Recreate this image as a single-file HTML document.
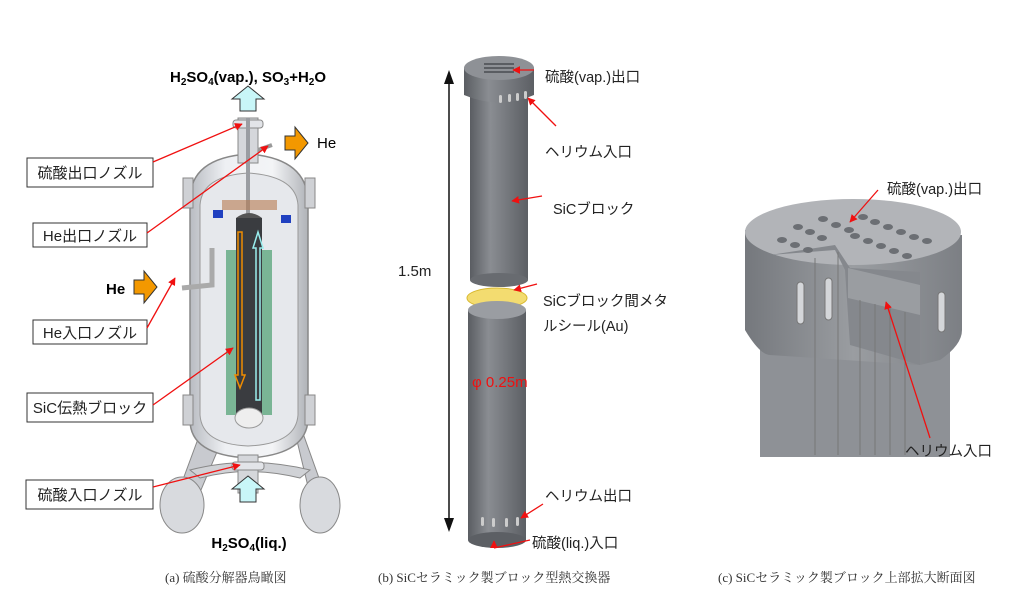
<!DOCTYPE html>
<html><head><meta charset="utf-8"><style>
html,body{margin:0;padding:0;background:#fff}
svg{display:block}
text{font-family:"Liberation Sans","Noto Sans CJK JP",sans-serif}
.s{font-family:"Liberation Serif","Noto Serif CJK SC",serif;fill:#333;font-size:13px}
</style></head><body>
<svg width="1024" height="601" viewBox="0 0 1024 601" xmlns="http://www.w3.org/2000/svg">
<defs>
<linearGradient id="cyl" x1="0" x2="1"><stop offset="0" stop-color="#5a5d62"/><stop offset=".35" stop-color="#8a8d92"/><stop offset="1" stop-color="#5c5f64"/></linearGradient>
<linearGradient id="ves" x1="0" x2="1"><stop offset="0" stop-color="#b9bcc2"/><stop offset=".3" stop-color="#eef0f3"/><stop offset=".7" stop-color="#f3f4f6"/><stop offset="1" stop-color="#b0b3b8"/></linearGradient>
<linearGradient id="blk" x1="0" x2="1"><stop offset="0" stop-color="#75787d"/><stop offset=".5" stop-color="#9a9da1"/><stop offset="1" stop-color="#7c7f84"/></linearGradient>
<marker id="ah" viewBox="0 0 10 10" refX="9" refY="5" markerWidth="6" markerHeight="6" orient="auto"><path d="M0,0L10,5L0,10z" fill="#f01010"/></marker>
</defs>

<!-- ===== Panel (a) ===== -->
<path d="M205,420 L168,520 L185,528 L222,440Z" fill="#c8cacf" stroke="#888" stroke-width="1"/>
<path d="M292,420 L318,528 L334,520 L300,425Z" fill="#c8cacf" stroke="#888" stroke-width="1"/>
<ellipse cx="182" cy="505" rx="22" ry="28" fill="#d8dade" stroke="#888"/>
<ellipse cx="320" cy="505" rx="20" ry="28" fill="#d8dade" stroke="#888"/>
<path d="M190,470 Q248,455 310,470 L300,478 Q248,465 200,478Z" fill="#d0d2d6" stroke="#888"/>
<path d="M190,200 Q190,158 248,154 Q306,158 308,200 L308,420 Q306,455 248,458 Q190,455 190,420Z" fill="url(#ves)" stroke="#888" stroke-width="1.5"/>
<path d="M200,205 Q202,176 248,173 Q296,176 298,205 L298,415 Q296,444 248,446 Q202,444 200,415Z" fill="#e6e8ec" stroke="#999"/>
<rect x="183" y="178" width="10" height="30" fill="#cfd1d5" stroke="#888"/>
<rect x="305" y="178" width="10" height="30" fill="#cfd1d5" stroke="#888"/>
<rect x="183" y="395" width="10" height="30" fill="#cfd1d5" stroke="#888"/>
<rect x="305" y="395" width="10" height="30" fill="#cfd1d5" stroke="#888"/>
<rect x="238" y="118" width="20" height="45" fill="#d5d7db" stroke="#888"/>
<rect x="233" y="120" width="30" height="8" rx="3" fill="#e2e4e8" stroke="#888"/>
<rect x="246" y="118" width="4" height="100" fill="#9a9da2"/>
<path d="M258,150 L272,145" stroke="#999" stroke-width="4"/>
<rect x="226" y="250" width="46" height="165" fill="#5fa880" opacity=".8"/>
<rect x="236" y="218" width="26" height="200" fill="#3a3c40"/>
<path d="M236,218 Q249,208 262,218Z" fill="#555"/>
<ellipse cx="249" cy="418" rx="14" ry="10" fill="#eee" stroke="#999"/>
<rect x="213" y="210" width="10" height="8" fill="#2040c0"/><rect x="281" y="215" width="10" height="8" fill="#2040c0"/>
<rect x="222" y="200" width="55" height="10" fill="#b87a50" opacity=".6"/>
<path d="M212,248 L212,285 L182,288" stroke="#aaa" stroke-width="5" fill="none"/>
<path d="M238,232 L238,375 L235,375 L240,388 L245,375 L242,375 L242,232Z" fill="none" stroke="#f08c00" stroke-width="1.5"/>
<path d="M256,400 L256,248 L253,248 L258,232 L263,248 L260,248 L260,400Z" fill="none" stroke="#9ee" stroke-width="1.5"/>
<rect x="238" y="455" width="20" height="38" fill="#d5d7db" stroke="#888"/>
<rect x="232" y="462" width="32" height="8" rx="3" fill="#e2e4e8" stroke="#888"/>
<path d="M240,111 L240,99 L232,99 L248,86 L264,99 L256,99 L256,111Z" fill="#c8f6f8" stroke="#333"/>
<path d="M240,502 L240,489 L232,489 L248,476 L264,489 L256,489 L256,502Z" fill="#c8f6f8" stroke="#333"/>
<path d="M285,136 L295,136 L295,127 L308,143 L295,159 L295,150 L285,150Z" fill="#f39800" stroke="#333"/>
<path d="M134,280 L144,280 L144,271 L157,287 L144,303 L144,294 L134,294Z" fill="#f39800" stroke="#333"/>
<text x="248" y="82" font-size="15" font-weight="bold" text-anchor="middle">H<tspan font-size="10" dy="3">2</tspan><tspan dy="-3">SO</tspan><tspan font-size="10" dy="3">4</tspan><tspan dy="-3">(vap.), SO</tspan><tspan font-size="10" dy="3">3</tspan><tspan dy="-3">+H</tspan><tspan font-size="10" dy="3">2</tspan><tspan dy="-3">O</tspan></text>
<text x="317" y="148" font-size="15">He</text>
<text x="106" y="294" font-size="15" font-weight="bold">He</text>
<text x="249" y="548" font-size="15" font-weight="bold" text-anchor="middle">H<tspan font-size="10" dy="3">2</tspan><tspan dy="-3">SO</tspan><tspan font-size="10" dy="3">4</tspan><tspan dy="-3">(liq.)</tspan></text>
<g font-size="15" fill="#222">
<rect x="27" y="158" width="126" height="29" fill="#fff" stroke="#333"/><text x="90" y="178" text-anchor="middle">硫酸出口ノズル</text>
<rect x="33" y="223" width="114" height="24" fill="#fff" stroke="#333"/><text x="90" y="241" text-anchor="middle">He出口ノズル</text>
<rect x="33" y="320" width="114" height="24" fill="#fff" stroke="#333"/><text x="90" y="338" text-anchor="middle">He入口ノズル</text>
<rect x="27" y="393" width="126" height="29" fill="#fff" stroke="#333"/><text x="90" y="413" text-anchor="middle">SiC伝熱ブロック</text>
<rect x="26" y="480" width="127" height="29" fill="#fff" stroke="#333"/><text x="90" y="500" text-anchor="middle">硫酸入口ノズル</text>
</g>
<g stroke="#f01010" stroke-width="1.3" fill="none" marker-end="url(#ah)">
<line x1="153" y1="162" x2="242" y2="124"/>
<line x1="147" y1="233" x2="268" y2="146"/>
<line x1="147" y1="328" x2="175" y2="278"/>
<line x1="153" y1="405" x2="233" y2="348"/>
<line x1="153" y1="487" x2="240" y2="465"/>
</g>
<text x="165" y="582" class="s">(a)  硫酸分解器鳥瞰図</text>

<!-- ===== Panel (b) ===== -->
<line x1="449" y1="76" x2="449" y2="526" stroke="#111" stroke-width="1.5"/>
<path d="M444,84 L449,70 L454,84Z M444,518 L449,532 L454,518Z" fill="#111"/>
<text x="398" y="276" font-size="15" fill="#222">1.5m</text>
<rect x="470" y="95" width="58" height="185" fill="url(#cyl)"/>
<ellipse cx="499" cy="280" rx="29" ry="7" fill="#686b70"/>
<path d="M464,68 L464,95 Q499,110 534,95 L534,68Z" fill="url(#cyl)"/>
<ellipse cx="499" cy="68" rx="35" ry="12" fill="#8e9196"/>
<g fill="#5a5d62"><rect x="484" y="63" width="30" height="2"/><rect x="484" y="67" width="30" height="2"/><rect x="484" y="71" width="30" height="2"/></g>
<g fill="#ccc"><rect x="499" y="95" width="3" height="8" rx="1.5"/><rect x="508" y="94" width="3" height="8" rx="1.5"/><rect x="516" y="93" width="3" height="8" rx="1.5"/><rect x="524" y="91" width="3" height="8" rx="1.5"/></g>
<ellipse cx="497" cy="298" rx="30" ry="10" fill="#f3dc70" stroke="#d8b830"/>
<rect x="468" y="310" width="58" height="230" fill="url(#cyl)"/>
<ellipse cx="497" cy="540" rx="29" ry="8" fill="#5c5f64"/>
<ellipse cx="497" cy="310" rx="29" ry="9" fill="#9a9da2"/>
<g fill="#ccc"><rect x="492" y="518" width="3" height="9" rx="1.5"/><rect x="505" y="518" width="3" height="9" rx="1.5"/><rect x="516" y="517" width="3" height="9" rx="1.5"/><rect x="481" y="517" width="3" height="9" rx="1.5"/></g>
<text x="472" y="387" font-size="15" fill="#f01010">φ 0.25m</text>
<g font-size="14.5" fill="#222">
<text x="545" y="82">硫酸(vap.)出口</text>
<text x="545" y="157">ヘリウム入口</text>
<text x="553" y="214">SiCブロック</text>
<text x="543" y="306">SiCブロック間メタ</text>
<text x="543" y="331">ルシール(Au)</text>
<text x="545" y="501">ヘリウム出口</text>
<text x="532" y="548">硫酸(liq.)入口</text>
</g>
<g stroke="#f01010" stroke-width="1.3" fill="none" marker-end="url(#ah)">
<line x1="534" y1="70" x2="513" y2="70"/>
<line x1="556" y1="126" x2="528" y2="98"/>
<line x1="542" y1="196" x2="512" y2="201"/>
<line x1="537" y1="284" x2="514" y2="290"/>
<line x1="543" y1="504" x2="521" y2="518"/>
<line x1="530" y1="540" x2="494" y2="548" marker-end="none"/>
<line x1="494" y1="548" x2="494" y2="541"/>
</g>
<text x="378" y="582" class="s">(b) SiCセラミック製ブロック型熱交換器</text>

<!-- ===== Panel (c) ===== -->
<rect x="760" y="330" width="190" height="127" fill="#8e9196"/>
<path d="M745,230 L745,330 Q760,355 770,355 L920,365 L940,360 Q962,345 962,330 L962,235Z" fill="url(#blk)"/>
<ellipse cx="853" cy="232" rx="108" ry="33" fill="#b2b4b8"/>
<path d="M770,255 L835,245 L850,268 L920,272 L920,365 L850,345 L845,270 L835,250Z" fill="#85888d"/>
<path d="M848,268 L920,285 L920,315 L848,298Z" fill="#9a9da1"/>
<g fill="#6c6f74">
<ellipse cx="823" cy="219" rx="5" ry="3"/><ellipse cx="836" cy="225" rx="5" ry="3"/><ellipse cx="849" cy="230" rx="5" ry="3"/>
<ellipse cx="798" cy="227" rx="5" ry="3"/><ellipse cx="810" cy="232" rx="5" ry="3"/><ellipse cx="822" cy="238" rx="5" ry="3"/>
<ellipse cx="782" cy="240" rx="5" ry="3"/><ellipse cx="795" cy="245" rx="5" ry="3"/><ellipse cx="808" cy="250" rx="5" ry="3"/>
<ellipse cx="863" cy="217" rx="5" ry="3"/><ellipse cx="875" cy="222" rx="5" ry="3"/><ellipse cx="888" cy="227" rx="5" ry="3"/><ellipse cx="901" cy="232" rx="5" ry="3"/><ellipse cx="914" cy="237" rx="5" ry="3"/><ellipse cx="927" cy="241" rx="5" ry="3"/>
<ellipse cx="855" cy="236" rx="5" ry="3"/><ellipse cx="868" cy="241" rx="5" ry="3"/><ellipse cx="881" cy="246" rx="5" ry="3"/><ellipse cx="894" cy="251" rx="5" ry="3"/><ellipse cx="907" cy="256" rx="5" ry="3"/>
</g>
<g fill="#d4d6d9" stroke="#777"><rect x="797" y="282" width="7" height="42" rx="3.5"/><rect x="825" y="278" width="7" height="42" rx="3.5"/><rect x="938" y="292" width="7" height="40" rx="3.5"/></g>
<g stroke="#777" stroke-width="1"><line x1="815" y1="258" x2="815" y2="455"/><line x1="838" y1="252" x2="838" y2="455"/><line x1="860" y1="300" x2="860" y2="455"/><line x1="875" y1="304" x2="875" y2="455"/><line x1="890" y1="308" x2="890" y2="455"/><line x1="905" y1="312" x2="905" y2="455"/></g>
<g font-size="14.5" fill="#222">
<text x="887" y="194">硫酸(vap.)出口</text>
<text x="905" y="456">ヘリウム入口</text>
</g>
<g stroke="#f01010" stroke-width="1.3" fill="none" marker-end="url(#ah)">
<line x1="878" y1="190" x2="850" y2="222"/>
<line x1="930" y1="438" x2="886" y2="302"/>
</g>
<text x="718" y="582" class="s">(c) SiCセラミック製ブロック上部拡大断面図</text>
</svg>
</body></html>
